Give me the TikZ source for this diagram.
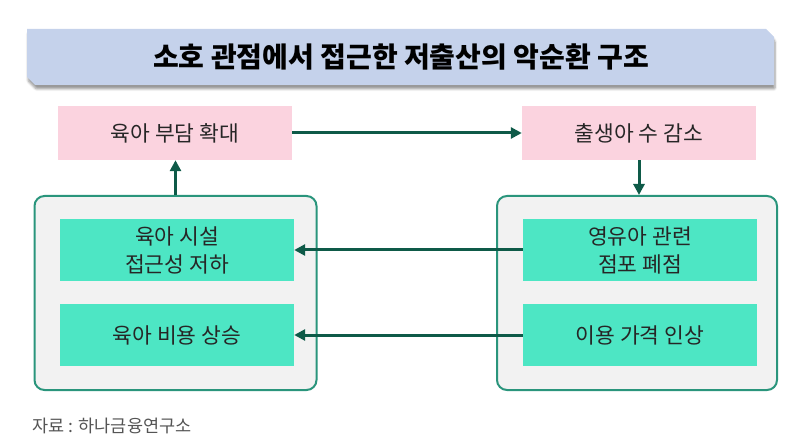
\documentclass[tikz,border=0pt]{standalone}
\usepackage{fontspec}
\setmainfont{Noto Sans CJK KR}
\usetikzlibrary{arrows.meta,shadows.blur}
\definecolor{bannerblue}{HTML}{C5D2EB}
\definecolor{pinkbox}{HTML}{FBD3DF}
\definecolor{mintbox}{HTML}{4DE6C4}
\definecolor{panelgray}{HTML}{F2F2F2}
\definecolor{panelline}{HTML}{2A957C}
\definecolor{arrowgreen}{HTML}{0E5A48}
\definecolor{notegray}{HTML}{555555}
\tikzset{
  pinkstep/.style={fill=pinkbox, minimum width=234pt, minimum height=54pt,
    font=\fontsize{21.5}{25}\selectfont, text=black!85},
  mintstep/.style={fill=mintbox, minimum width=234pt, minimum height=62pt,
    align=center, font=\fontsize{21.5}{28}\selectfont, text=black!85},
  panel/.style={fill=panelgray, draw=panelline, line width=2pt,
    rounded corners=10pt, minimum width=282pt, minimum height=194pt},
  flow/.style={draw=arrowgreen, line width=3pt,
    -{Triangle[length=11pt,width=11pt]}}
}
\begin{document}
\begin{tikzpicture}[x=1pt,y=-1pt]
  \useasboundingbox (0,0) rectangle (803,438);
  % title banner
  \path[fill=bannerblue, blur shadow={shadow xshift=1pt, shadow yshift=-4pt,
      shadow blur steps=6, shadow blur extra rounding=1pt}]
    (27,29) -- (766,29) -- (774,37) -- (774,85) -- (35,85) -- (27,77) -- cycle;
  \node (title) at (401,57) {\fontsize{28}{32}\selectfont\bfseries 소호 관점에서 접근한 저출산의 악순환 구조};
  % panels
  \node[panel] (lpanel) at (175.5,293) {};
  \node[panel, minimum width=280pt] (rpanel) at (637,293) {};
  % steps
  \draw
    (175,133) node[pinkstep] (burden){육아 부담 확대}
    (639,133) node[pinkstep] (births){출생아 수 감소}
    (177,250) node[mintstep] (access){육아 시설\\접근성 저하}
    (177,335) node[mintstep] (cost){육아 비용 상승}
    (640,250) node[mintstep] (closure){영유아 관련\\점포 폐점}
    (640,335) node[mintstep] (price){이용 가격 인상};
  \node[anchor=west, text=notegray, font=\fontsize{17.5}{20}\selectfont]
    (source) at (29,426) {자료 : 하나금융연구소};
  \begin{scope}[flow]
    \draw (burden) to (births);
    \draw (births.south -| rpanel.north) ++(2,0) to ([xshift=2pt]rpanel.north);
    \draw (lpanel.north) to (lpanel.north |- burden.south);
    \draw (closure) to (access);
    \draw (price) to (cost);
  \end{scope}
\end{tikzpicture}
\end{document}
